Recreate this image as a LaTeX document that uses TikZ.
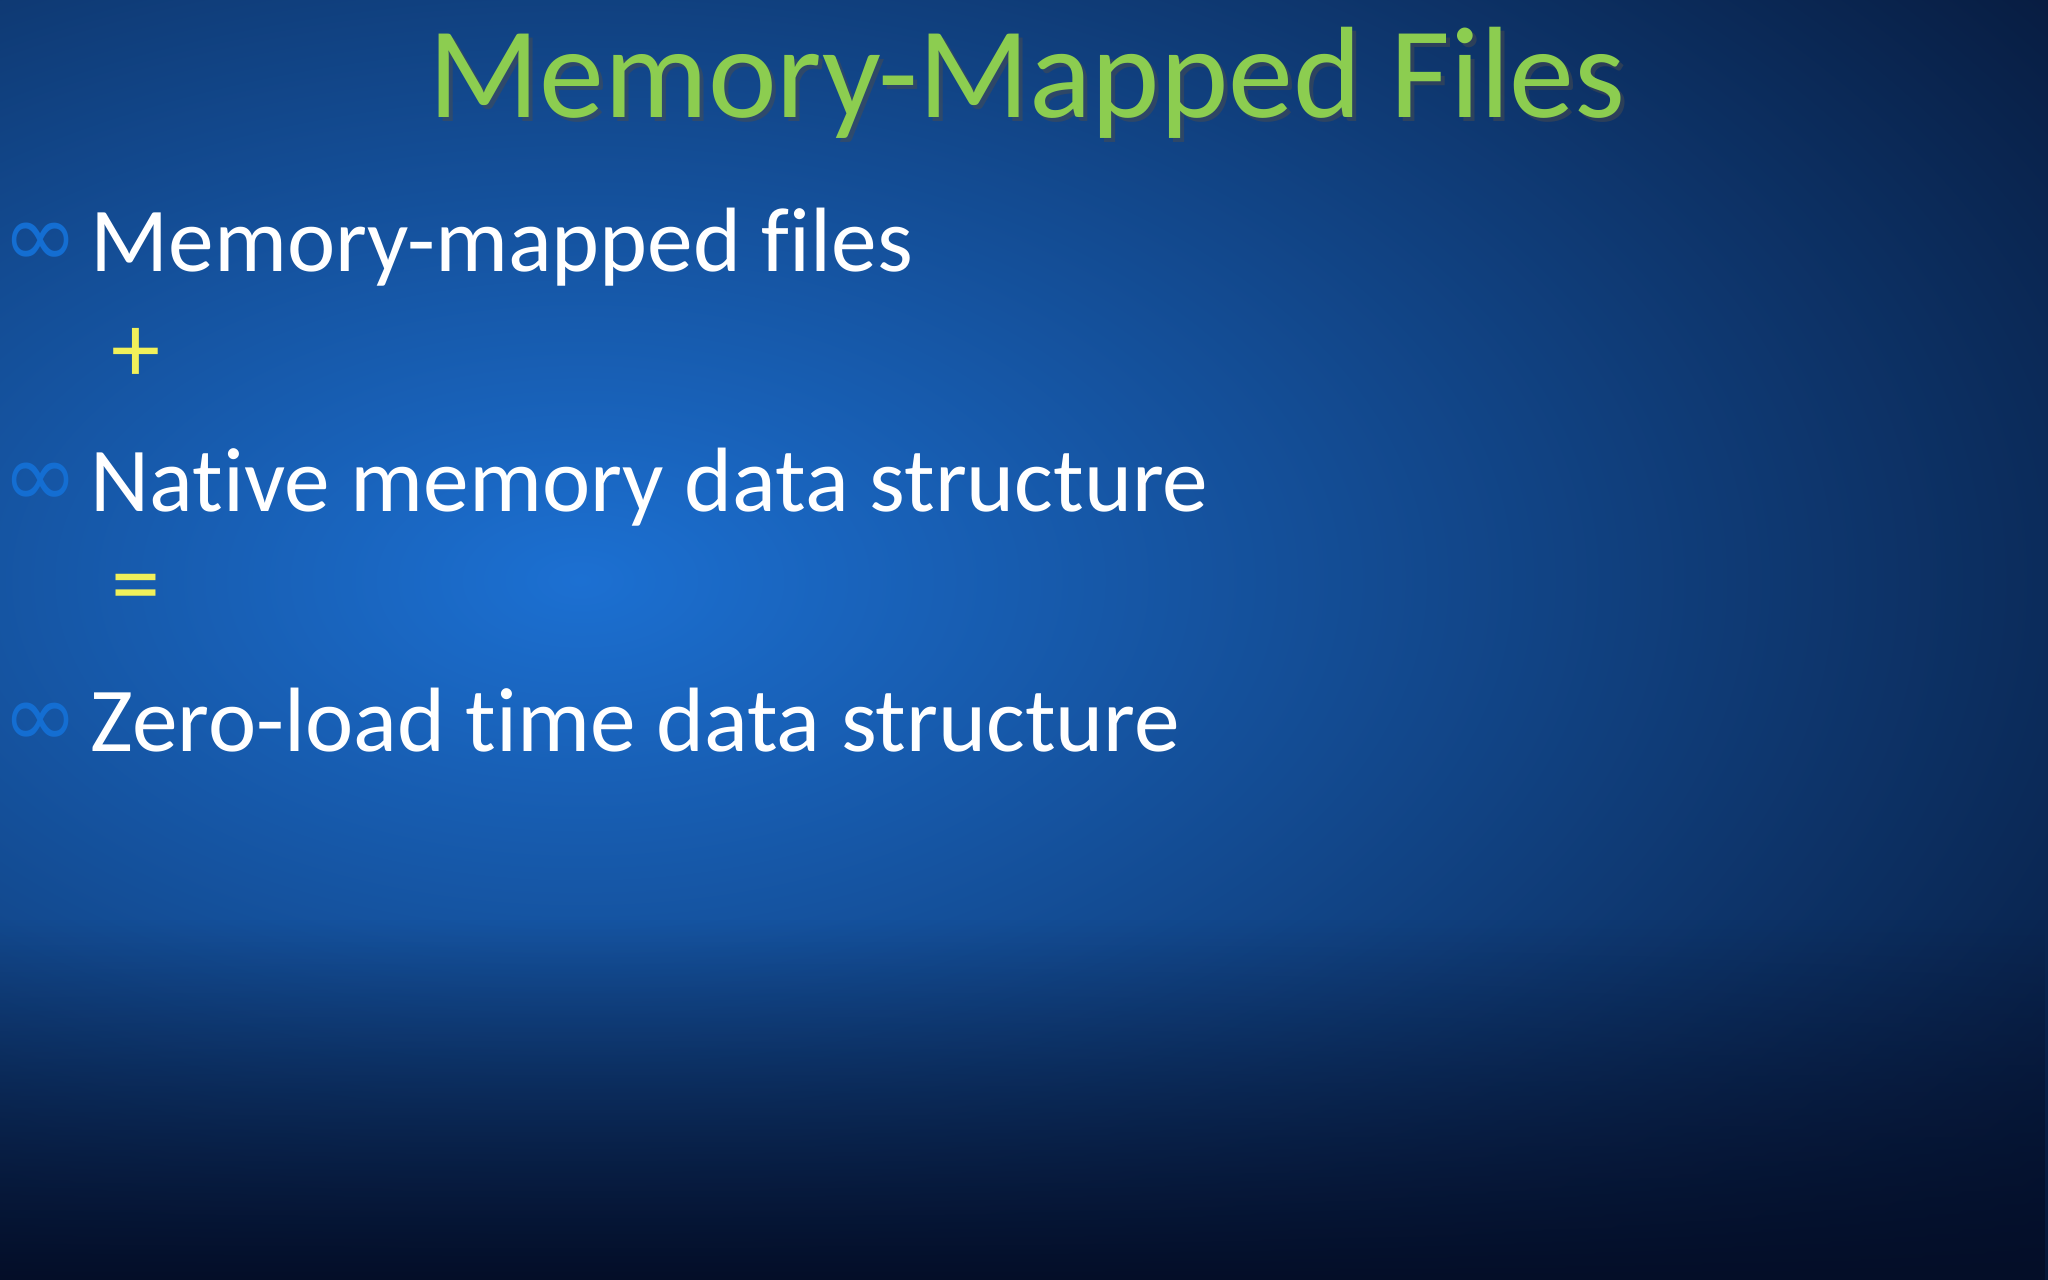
\documentclass[tikz,border=0pt]{standalone}
\usepackage{fontspec}
\setmainfont[Ligatures=NoCommon]{Carlito}
\newfontfamily\symfont{DejaVu Sans}
\usetikzlibrary{fadings}
\definecolor{titlegreen}{RGB}{140,205,80}
\definecolor{bgdark}{RGB}{4,14,40}
\definecolor{bglight}{RGB}{28,112,210}
\definecolor{bulletblue}{RGB}{20,110,210}
\definecolor{opyellow}{RGB}{240,240,90}
\tikzset{
  bodytext/.style={anchor=base west,inner sep=0pt,text=white,font=\fontsize{26}{30}\selectfont},
  bulletmark/.style={anchor=base west,inner sep=0pt,text=bulletblue,font=\symfont\fontsize{26}{30}\selectfont},
  optext/.style={anchor=center,inner sep=0pt,text=opyellow,font=\fontsize{28}{32}\selectfont}
}
\begin{document}
\begin{tikzpicture}
\useasboundingbox (0,0) rectangle (20.48,-12.8);
\begin{scope}
\clip (0,0) rectangle (20.48,-12.8);
\fill[bgdark] (0,0) rectangle (20.48,-12.8);
\shade[inner color=bglight,outer color=bgdark] (5.8,-5.8) ellipse (21 and 12);
\fill[bgdark,path fading=north] (0,-9.2) rectangle (20.48,-12.8);
\end{scope}
\node[anchor=base,inner sep=0pt,text=black!70,opacity=0.5,font=\fontsize{37}{42}\selectfont] (shadow) at (10.31,-1.22) {Memory-Mapped Files};
\node[anchor=base,inner sep=0pt,text=titlegreen,font=\fontsize{37}{42}\selectfont] (title) at (10.27,-1.18) {Memory-Mapped Files};
\node[bulletmark] (b1) at (0.02,-2.68) {∞};
\node[bodytext] (t1) at (0.9,-2.72) {Memory-mapped files};
\node[optext] (plus) at (1.36,-3.55) {+};
\node[bulletmark] (b2) at (0.02,-5.08) {∞};
\node[bodytext] (t2) at (0.9,-5.12) {Native memory data structure};
\node[optext] (eq) at (1.36,-5.95) {=};
\node[bulletmark] (b3) at (0.02,-7.48) {∞};
\node[bodytext] (t3) at (0.9,-7.52) {Zero-load time data structure};
\end{tikzpicture}
\end{document}
